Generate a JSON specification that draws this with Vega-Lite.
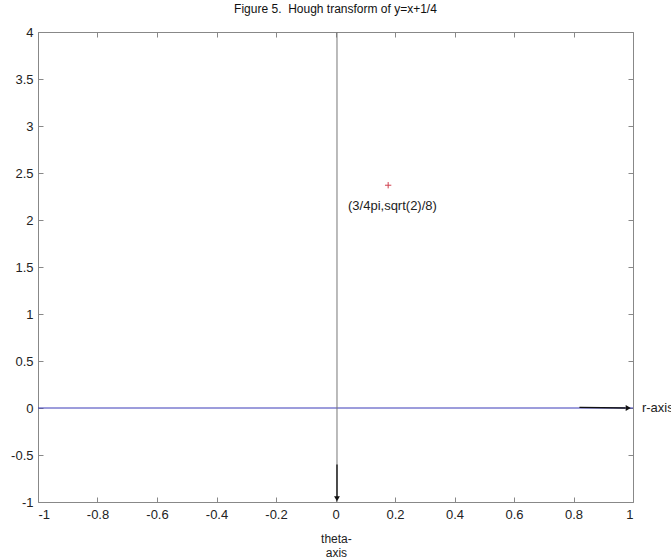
{
  "$schema": "https://vega.github.io/schema/vega-lite/v6.json",
  "width": 595,
  "height": 470,
  "autosize": {"type": "none"},
  "padding": {"left": 38, "top": 32, "right": 38, "bottom": 58},
  "background": "white",
  "title": {"text": "Figure 5.\u00a0\u00a0Hough transform of y=x+1/4", "font": "Liberation Sans", "fontSize": 12, "fontWeight": "normal", "color": "#111", "offset": 10, "anchor": "middle"},
  "config": {
    "view": {"stroke": "#888", "strokeWidth": 1},
    "axis": {"grid": false, "domain": false, "tickColor": "#888", "tickSize": -5, "labelFont": "Liberation Sans", "labelFontSize": 13, "labelColor": "#222", "title": null}
  },
  "resolve": {"axis": {"x": "independent", "y": "independent"}},
  "layer": [
    {
      "data": {"values": [{"x": -1, "y": -1}, {"x": 1, "y": 4}]},
      "mark": {"type": "point", "opacity": 0},
      "encoding": {
        "x": {"field": "x", "type": "quantitative", "scale": {"domain": [-1, 1], "nice": false, "zero": false}, "axis": {"orient": "bottom", "labelPadding": 11, "values": [-1, -0.8, -0.6, -0.4, -0.2, 0, 0.2, 0.4, 0.6, 0.8, 1], "labelExpr": "'' + datum.value"}},
        "y": {"field": "y", "type": "quantitative", "scale": {"domain": [-1, 4], "nice": false, "zero": false}, "axis": {"orient": "left", "labelPadding": 10, "values": [-1, -0.5, 0, 0.5, 1, 1.5, 2, 2.5, 3, 3.5, 4], "labelExpr": "'' + datum.value"}}
      }
    },
    {
      "data": {"values": [{"x": -1, "y": -1}, {"x": 1, "y": 4}]},
      "mark": {"type": "point", "opacity": 0},
      "encoding": {
        "x": {"field": "x", "type": "quantitative", "axis": {"orient": "top", "values": [-1, -0.8, -0.6, -0.4, -0.2, 0, 0.2, 0.4, 0.6, 0.8, 1], "labels": false}},
        "y": {"field": "y", "type": "quantitative", "axis": {"orient": "right", "values": [-1, -0.5, 0, 0.5, 1, 1.5, 2, 2.5, 3, 3.5, 4], "labels": false}}
      }
    },
    {
      "data": {"values": [{"x1": -1, "x2": 1, "y1": 0}]},
      "mark": {"type": "rule", "color": "#3a3ab8", "strokeWidth": 1},
      "encoding": {
        "x": {"field": "x1", "type": "quantitative", "axis": null},
        "x2": {"field": "x2"},
        "y": {"field": "y1", "type": "quantitative", "axis": null}
      }
    },
    {
      "data": {"values": [{"x1": 0.005, "y1": 4, "y2": -1}]},
      "mark": {"type": "rule", "color": "#777777", "strokeWidth": 1},
      "encoding": {
        "x": {"field": "x1", "type": "quantitative", "axis": null},
        "y": {"field": "y1", "type": "quantitative", "axis": null},
        "y2": {"field": "y2"}
      }
    },
    {
      "data": {"values": [
        {"x1": 0.005, "x2": 0.005, "y1": -0.6, "y2": -0.95},
        {"x1": 0.82, "x2": 0.975, "y1": 0.006, "y2": 0.0}
      ]},
      "mark": {"type": "rule", "color": "#111111", "strokeWidth": 1.3},
      "encoding": {
        "x": {"field": "x1", "type": "quantitative", "axis": null},
        "x2": {"field": "x2"},
        "y": {"field": "y1", "type": "quantitative", "axis": null},
        "y2": {"field": "y2"}
      }
    },
    {
      "data": {"values": [{"x": 0.005, "y": -0.965}]},
      "mark": {"type": "point", "shape": "triangle-down", "filled": true, "color": "#111", "size": 34, "opacity": 1},
      "encoding": {
        "x": {"field": "x", "type": "quantitative", "axis": null},
        "y": {"field": "y", "type": "quantitative", "axis": null}
      }
    },
    {
      "data": {"values": [{"x": 0.984, "y": 0.0}]},
      "mark": {"type": "point", "shape": "triangle-right", "filled": true, "color": "#111", "size": 34, "opacity": 1},
      "encoding": {
        "x": {"field": "x", "type": "quantitative", "axis": null},
        "y": {"field": "y", "type": "quantitative", "axis": null}
      }
    },
    {
      "data": {"values": [{"x": 0.177, "y": 2.37}]},
      "mark": {"type": "point", "shape": "M-1,0L1,0M0,-1L0,1", "filled": false, "stroke": "#d04050", "strokeWidth": 1, "size": 40, "opacity": 1},
      "encoding": {
        "x": {"field": "x", "type": "quantitative", "axis": null},
        "y": {"field": "y", "type": "quantitative", "axis": null}
      }
    },
    {
      "data": {"values": [
        {"x": 0.042, "y": 2.15, "t": "(3/4pi,sqrt(2)/8)"},
        {"x": 1.03, "y": 0, "t": "r-axis"}
      ]},
      "mark": {"type": "text", "font": "Liberation Sans", "fontSize": 13, "color": "#222", "baseline": "middle", "align": "left", "clip": false},
      "encoding": {
        "x": {"field": "x", "type": "quantitative", "axis": null},
        "y": {"field": "y", "type": "quantitative", "axis": null},
        "text": {"field": "t"}
      }
    },
    {
      "data": {"values": [
        {"x": 0.003, "y": -1.39, "t": "theta-"},
        {"x": 0.003, "y": -1.54, "t": "axis"}
      ]},
      "mark": {"type": "text", "font": "Liberation Sans", "fontSize": 12, "color": "#222", "baseline": "middle", "align": "center", "clip": false},
      "encoding": {
        "x": {"field": "x", "type": "quantitative", "axis": null},
        "y": {"field": "y", "type": "quantitative", "axis": null},
        "text": {"field": "t"}
      }
    }
  ]
}
